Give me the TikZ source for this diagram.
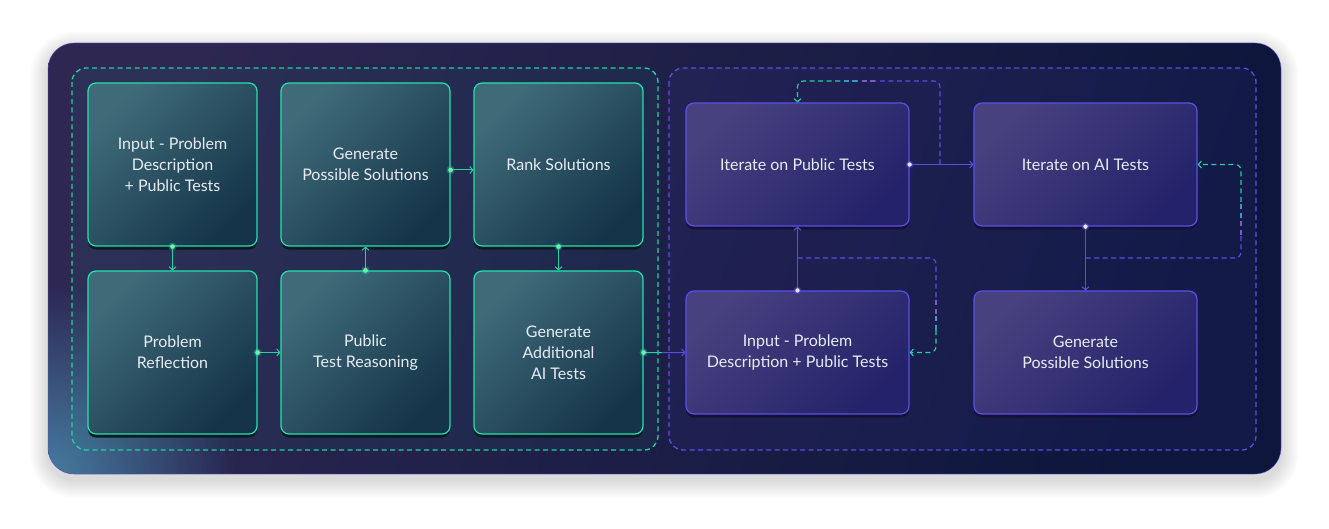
\documentclass[tikz,border=0pt]{standalone}
\usepackage{fontspec}
\setmainfont{Lato}
\usetikzlibrary{arrows.meta,fadings,shadows,calc}
\tikzfading[name=glowfade, inner color=transparent!0, outer color=transparent!100]
\definecolor{lborder}{HTML}{22E3AD}
\definecolor{ltl}{HTML}{3F6B79}
\definecolor{lbr}{HTML}{153449}
\definecolor{lshadow}{HTML}{0D1824}
\definecolor{rborder}{HTML}{5D4EE6}
\definecolor{rtl}{HTML}{47417F}
\definecolor{rbr}{HTML}{24226A}
\definecolor{rshadow}{HTML}{141133}
\definecolor{txt}{HTML}{E8ECF2}
\definecolor{gcol}{HTML}{1FD3A2}
\definecolor{pcol}{HTML}{5A4EE0}
\definecolor{pinkc}{HTML}{7A5CC4}
\definecolor{ptl}{HTML}{2D2752}
\definecolor{pbr}{HTML}{0D163C}
\definecolor{glowc}{HTML}{467CA0}
\tikzset{
  boxfont/.style={font=\fontsize{16}{21}\selectfont, text=txt, align=center},
  lbox/.style={boxfont, draw=lborder, line width=1.2pt, rounded corners=8pt,
    top color=ltl, bottom color=lbr, shading angle=45,
    minimum width=169pt, minimum height=163pt,
    drop shadow={shadow xshift=0pt, shadow yshift=-3.5pt, fill=lshadow, opacity=1}},
  rbox/.style={boxfont, draw=rborder, line width=1.2pt, rounded corners=8pt,
    top color=rtl, bottom color=rbr, shading angle=45,
    minimum width=223pt, minimum height=123pt,
    drop shadow={shadow xshift=0pt, shadow yshift=-3.5pt, fill=rshadow, opacity=1}},
  tip/.style={-{Straight Barb[length=3pt,width=7pt]}},
  gar/.style={draw=gcol, line width=1pt, tip},
  par/.style={draw=pcol, line width=1pt, tip},
  gplain/.style={draw=gcol, line width=1pt},
  dpat/.style={line width=1.1pt, dash pattern=on 5pt off 3.5pt},
  pdash/.style={dpat, draw=pcol, rounded corners=6pt},
  kdash/.style={dpat, draw=pinkc},
  mdash/.style={dpat, draw=pcol!45!gcol},
  gdash/.style={dpat, draw=gcol, rounded corners=6pt, tip},
}
\newcommand{\gdotat}[1]{\fill[gcol, opacity=0.35] (#1) circle (4.2); \fill[green!30!gcol!60!white] (#1) circle (2.4);}
\newcommand{\pdotat}[1]{\fill[pcol, opacity=0.5] (#1) circle (3.8); \fill[white!85!pcol] (#1) circle (2.2);}
\begin{document}
\begin{tikzpicture}[x=1pt,y=-1pt]
\useasboundingbox (0,0) rectangle (1329,529);
\fill[white] (0,0) rectangle (1329,529);
% soft shadow of panel
\foreach \i in {1,...,18}{
  \fill[black, opacity=0.008, rounded corners=26+\i] (48-\i,43-\i+6) rectangle (1281+\i,474+\i+6);
}
% panel
\begin{scope}
  \clip[rounded corners=26] (48,43) rectangle (1281,474);
  \shade[top color=ptl, bottom color=pbr, shading angle=70] (48,43) rectangle (1281,474);
  \fill[glowc, path fading=glowfade] (48,474) circle (190);
\end{scope}
\draw[rborder, opacity=0.4, line width=0.8pt, rounded corners=26] (48,43) rectangle (1281,474);
% group frames
\fill[rounded corners=14, fill=gcol, opacity=0.05] (72,68) rectangle (658,450);
\draw[rounded corners=14, draw=gcol, line width=1.3pt, dash pattern=on 5pt off 3.5pt] (72,68) rectangle (658,450);
\fill[rounded corners=14, fill=pcol, opacity=0.08] (669,68) rectangle (1256,450);
\draw[rounded corners=14, draw=pcol, line width=1.3pt, dash pattern=on 5pt off 3.5pt] (669,68) rectangle (1256,450);
% left boxes
\node[lbox] (b1) at (172.5,164.5) {Input - Problem\\Description\\+ Public Tests};
\node[lbox] (b2) at (365.5,164.5) {Generate\\Possible Solutions};
\node[lbox] (b3) at (558.5,164.5) {Rank Solutions};
\node[lbox] (b4) at (172.5,352.5) {Problem\\Reflection};
\node[lbox] (b5) at (365.5,352.5) {Public\\Test Reasoning};
\node[lbox] (b6) at (558.5,352.5) {Generate\\Additional\\AI Tests};
% right boxes
\node[rbox] (r1) at (797.5,164.5) {Iterate on Public Tests};
\node[rbox] (r2) at (1085.5,164.5) {Iterate on AI Tests};
\node[rbox] (r3) at (797.5,352.5) {Input - Problem\\Description + Public Tests};
\node[rbox] (r4) at (1085.5,352.5) {Generate\\Possible Solutions};
% left connectors
\draw[gar] (b1.south) -- (b4.north);
\draw[gar] (b4.east) -- (b5.west);
\draw[gar] (b5.north) -- (b2.south);
\draw[gar] ([yshift=-5.5pt]b2.east) -- ([yshift=-5.5pt]b3.west);
\draw[gar] (b3.south) -- (b6.north);
\coordinate (m1) at ($(b6.east)!0.45!(r3.west)$);
\draw[gplain] (b6.east) -- (m1);
\draw[par] (m1) -- (r3.west);
% right connectors
\draw[par] (r1.east) -- (r2.west);
\draw[par] (r3.north) -- (r1.south);
\draw[par] (r2.south) -- (r4.north);
% dashed loop 1
\coordinate (a1) at (940,164.5);
\coordinate (a2) at (940,81);
\coordinate (a3) at (875,81);
\coordinate (a4) at (857,81);
\coordinate (a6) at (840,81);
\coordinate (a5) at (797.5,81);
\draw[pdash] (a1) -- (a2) -- (a3);
\draw[kdash] (a3) -- (a4);
\draw[mdash] (a4) -- (a6);
\draw[gdash] (a6) -- (a5) -- (r1.north);
% dashed loop 2
\coordinate (c1) at (797.5,258);
\coordinate (c2) at (936,258);
\coordinate (c3) at (936,300);
\coordinate (c4) at (936,316);
\coordinate (c6) at (936,330);
\coordinate (c5) at (936,352.5);
\draw[pdash] (c1) -- (c2) -- (c3);
\draw[kdash] (c3) -- (c4);
\draw[mdash] (c4) -- (c6);
\draw[gdash] (c6) -- (c5) -- (r3.east);
% dashed loop 3
\coordinate (d1) at (1085.5,258);
\coordinate (d2) at (1241,258);
\coordinate (d3) at (1241,235);
\coordinate (d4) at (1241,218);
\coordinate (d6) at (1241,202);
\coordinate (d5) at (1241,164.5);
\draw[pdash] (d1) -- (d2) -- (d3);
\draw[kdash] (d3) -- (d4);
\draw[mdash] (d4) -- (d6);
\draw[gdash] (d6) -- (d5) -- (r2.east);
% dots
\gdotat{b1.south}
\gdotat{b4.east}
\gdotat{b5.north}
\gdotat{$(b2.east)+(0,5.5)$}
\gdotat{b3.south}
\gdotat{b6.east}
\pdotat{r1.east}
\pdotat{r3.north}
\pdotat{r2.south}
\end{tikzpicture}
\end{document}
